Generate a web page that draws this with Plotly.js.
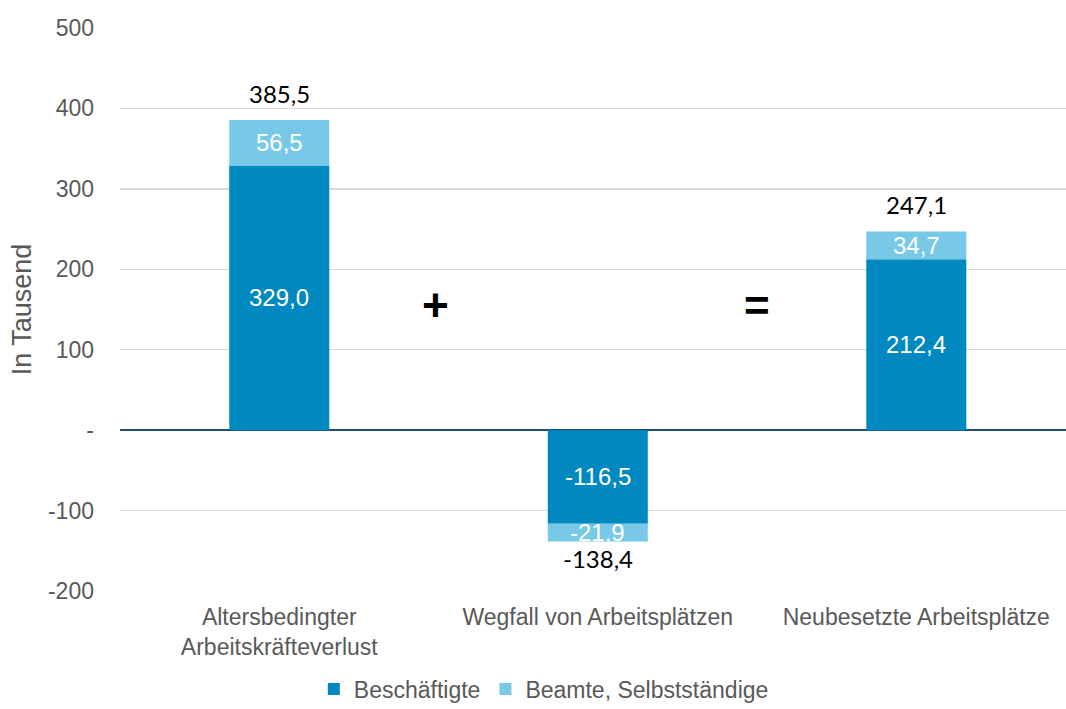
<!DOCTYPE html>
<html>
<head>
<meta charset="utf-8">
<script src="https://cdn.plot.ly/plotly-3.0.1.min.js"></script>
<style>html,body{margin:0;padding:0;background:#fff;}#chart{width:1066px;height:709px;}</style>
</head>
<body>
<div id="chart"></div>
<script>
const categories = ["Altersbedingter<br>Arbeitskräfteverlust", "Wegfall von Arbeitsplätzen", "Neubesetzte Arbeitsplätze"];
const beschaeftigte = [329.0, -116.5, 212.4];
const beamte = [56.5, -21.9, 34.7];
const totals = [385.5, -138.4, 247.1];
const seriesNames = ["Beschäftigte", "Beamte, Selbstständige"];
const yTickVals = [-200, -100, 0, 100, 200, 300, 400, 500];
const yTickText = ["-200", "-100", "-", "100", "200", "300", "400", "500"];

const fmt = v => v.toFixed(1).replace(".", ",");
const dark = "#0089C1", light = "#77C9E7";
const AR = "Liberation Sans";

const traces = [
  {type: "bar", name: seriesNames[0], x: categories, y: beschaeftigte, marker: {color: dark}, width: 0.314, hoverinfo: "none"},
  {type: "bar", name: seriesNames[1], x: categories, y: beamte, marker: {color: light}, width: 0.314, hoverinfo: "none"}
];

const annotations = [];
categories.forEach((c, i) => {
  annotations.push({x: c, y: beschaeftigte[i] / 2, text: fmt(beschaeftigte[i]), showarrow: false,
    font: {family: AR, size: 24, color: "#ffffff"}});
  annotations.push({x: c, y: beschaeftigte[i] + beamte[i] / 2, text: fmt(beamte[i]), showarrow: false,
    font: {family: AR, size: 24, color: "#ffffff"}});
  const pos = totals[i] >= 0;
  annotations.push({x: c, y: totals[i], text: fmt(totals[i]), showarrow: false,
    yanchor: pos ? "bottom" : "top", yshift: pos ? 10 : -1,
    font: {family: "Lato", size: 24, color: "#000000"}});
});
annotations.push({x: 0.49, y: 155, text: "<b>+</b>", showarrow: false, font: {family: AR, size: 46, color: "#000"}});
annotations.push({x: 1.5, y: 155, text: "<b>=</b>", showarrow: false, font: {family: AR, size: 44, color: "#000"}});

const layout = {
  width: 1066, height: 709,
  margin: {l: 120, r: 0, t: 28, b: 118, autoexpand: false},
  paper_bgcolor: "#ffffff", plot_bgcolor: "#ffffff",
  barmode: "relative",
  showlegend: true,
  font: {family: AR, size: 23, color: "#595959"},
  xaxis: {
    type: "category", range: [-0.5, 2.47],
    showgrid: false, showline: false, ticks: "",
    tickangle: 0, automargin: false,
    ticklabelstandoff: 10,
    tickfont: {family: AR, size: 23, color: "#595959"}
  },
  yaxis: {
    range: [-200, 500], tickvals: yTickVals, ticktext: yTickText,
    showgrid: true, gridcolor: "#D9D9D9", gridwidth: 1.5,
    zeroline: true, zerolinecolor: "#1F4E79", zerolinewidth: 1.5,
    showline: false, ticks: "", ticklen: 0, automargin: false,
    ticklabelstandoff: 25,
    tickfont: {family: AR, size: 23, color: "#595959"},
    title: {text: "In Tausend", standoff: 8, font: {family: AR, size: 27, color: "#595959"}}
  },
  legend: {
    orientation: "h", xref: "paper", yref: "paper",
    x: 0.448, xanchor: "center", y: -0.174, yanchor: "middle",
    font: {family: AR, size: 23, color: "#595959"},
    traceorder: "normal", itemclick: false, itemwidth: 30
  },
  annotations: annotations
};

Plotly.newPlot("chart", traces, layout, {displayModeBar: false, staticPlot: true});
</script>
</body>
</html>
